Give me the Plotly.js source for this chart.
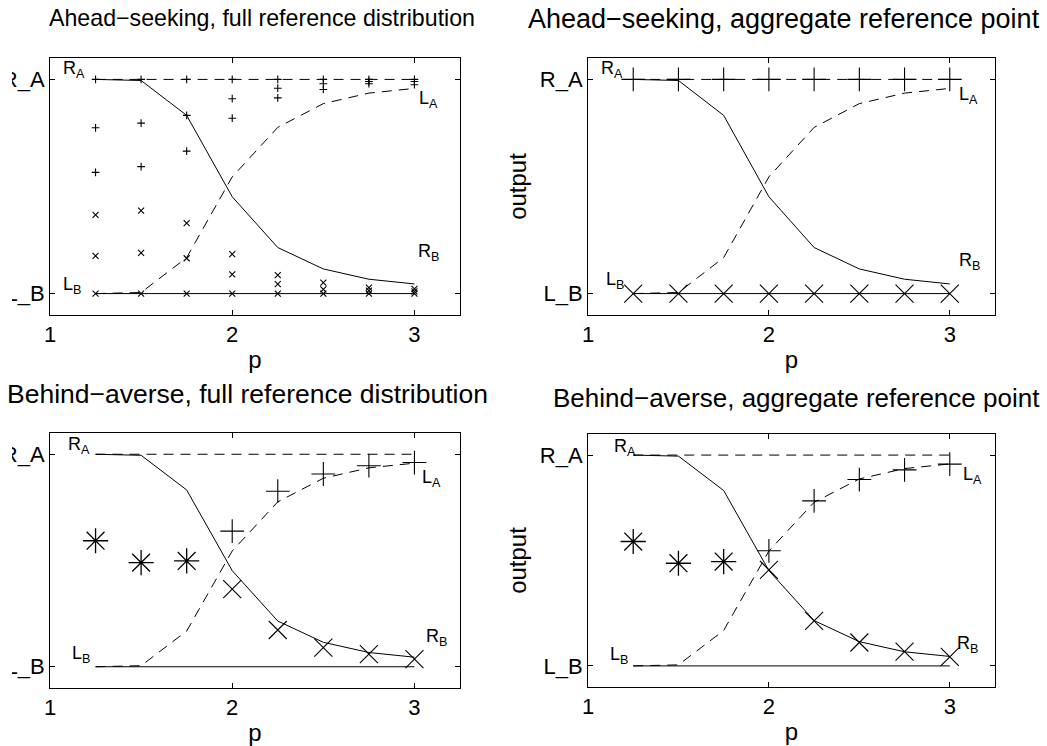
<!DOCTYPE html>
<html>
<head>
<meta charset="utf-8">
<script src="https://cdn.plot.ly/plotly-3.0.1.min.js"></script>
<style>
  html, body { margin: 0; padding: 0; background: #fff; }
  #chart { width: 1047px; height: 746px; }
</style>
</head>
<body>
<div id="chart"></div>
<script>
// ---------- data ----------
const pVals = [1.25, 1.5, 1.75, 2, 2.25, 2.5, 2.75, 3];
// solid curve falling from R_A to R_B
const curveB = [1.0, 0.995, 0.832, 0.452, 0.215, 0.115, 0.067, 0.045];
// dashed curve rising from L_B to L_A
const curveA = [0.0, 0.005, 0.168, 0.545, 0.776, 0.887, 0.936, 0.958];
// horizontal reference levels
const refEnds = [1.25, 3];
const levelA = [1, 1];
const levelB = [0, 0];

const xTickVals = [1, 2, 3];
const xTickText = ['1', '2', '3'];
const yTickVals = [0, 1];
const yTickText = ['L_B', 'R_A'];

// panel 1: ahead-seeking, full reference distribution
const tlPlusP = [1.25,1.25,1.25, 1.5,1.5,1.5, 1.75,1.75,1.75, 2,2,2, 2.25,2.25,2.25, 2.5,2.5,2.5, 2.75,2.75,2.75, 3,3,3];
const tlPlusY = [1.0,0.774,0.566, 1.0,0.796,0.593, 1.0,0.832,0.665, 1.0,0.91,0.819, 1.0,0.959,0.914, 1.0,0.98,0.953, 1.0,0.99,0.98, 1.0,0.99,0.975];
const tlCrossP = [1.25,1.25,1.25, 1.5,1.5,1.5, 1.75,1.75,1.75, 2,2,2, 2.25,2.25,2.25, 2.5,2.5,2.5, 2.75,2.75,2.75, 3,3,3];
const tlCrossY = [0.367,0.176,0.0, 0.387,0.19,0.0, 0.329,0.165,0.0, 0.184,0.09,0.0, 0.086,0.044,0.0, 0.051,0.02,0.0, 0.028,0.014,0.0, 0.022,0.01,0.0];

// panel 2: ahead-seeking, aggregate reference point
const trPlusY = [1, 1, 1, 1, 1, 1, 1, 1];
const trCrossY = [0, 0, 0, 0, 0, 0, 0, 0];

// panel 3: behind-averse, full reference distribution
const starP = [1.25, 1.5, 1.75];
const pairP = [2, 2.25, 2.5, 2.75, 3];
const blStarY = [0.593, 0.49, 0.498];
const blPlusY = [0.638, 0.826, 0.907, 0.946, 0.961];
const blCrossY = [0.365, 0.173, 0.09, 0.059, 0.036];

// panel 4: behind-averse, aggregate reference point
const brStarY = [0.59, 0.487, 0.495];
const brPlusY = [0.546, 0.783, 0.884, 0.93, 0.957];
const brCrossY = [0.456, 0.214, 0.111, 0.068, 0.043];

const titles = [
  'Ahead\u2212seeking, full reference distribution',
  'Ahead\u2212seeking, aggregate reference point',
  'Behind\u2212averse, full reference distribution',
  'Behind\u2212averse, aggregate reference point'
];

// ---------- styling / layout ----------
const FONT = 'Liberation Sans, Arial, Helvetica, sans-serif';
const W = 1047, H = 746;
const px = v => v / W;
const py = v => 1 - v / H;

const panels = [
  { id: '',  x0: 50,  x1: 460, y0: 58,  y1: 315, ytitle: false },
  { id: '2', x0: 588, x1: 995, y0: 58,  y1: 315, ytitle: true },
  { id: '3', x0: 50,  x1: 460, y0: 433, y1: 688, ytitle: false },
  { id: '4', x0: 588, x1: 995, y0: 434, y1: 687, ytitle: true }
];

const traces = [];
function lineTraces(ax) {
  const xa = 'x' + ax, ya = 'y' + ax;
  traces.push({ x: refEnds, y: levelA, xaxis: xa, yaxis: ya, mode: 'lines',
    line: { color: '#000', width: 1, dash: '10px,7px' }, hoverinfo: 'skip' });
  traces.push({ x: refEnds, y: levelB, xaxis: xa, yaxis: ya, mode: 'lines',
    line: { color: '#000', width: 1 }, hoverinfo: 'skip' });
  traces.push({ x: pVals, y: curveB, xaxis: xa, yaxis: ya, mode: 'lines',
    line: { color: '#000', width: 1 }, hoverinfo: 'skip' });
  traces.push({ x: pVals, y: curveA, xaxis: xa, yaxis: ya, mode: 'lines',
    line: { color: '#000', width: 1, dash: '10px,7px' }, hoverinfo: 'skip' });
}
function markerTrace(ax, x, y, symbol, size, lw) {
  traces.push({ x: x, y: y, xaxis: 'x' + ax, yaxis: 'y' + ax, mode: 'markers',
    marker: { symbol: symbol, size: size, color: '#000', line: { color: '#000', width: lw || 1.1 } },
    hoverinfo: 'skip' });
}

// panel 1
lineTraces('');
markerTrace('', tlPlusP, tlPlusY, 'cross-thin-open', 5.5);
markerTrace('', tlCrossP, tlCrossY, 'x-thin-open', 6);
// panel 2
lineTraces('2');
markerTrace('2', pVals, trPlusY, 'cross-thin-open', 17);
markerTrace('2', pVals, trCrossY, 'x-thin-open', 18);
// panel 3
lineTraces('3');
markerTrace('3', starP, blStarY, 'asterisk-open', 21, 1.3);
markerTrace('3', pairP, blPlusY, 'cross-thin-open', 17);
markerTrace('3', pairP, blCrossY, 'x-thin-open', 18);
// panel 4
lineTraces('4');
markerTrace('4', starP, brStarY, 'asterisk-open', 21, 1.3);
markerTrace('4', pairP, brPlusY, 'cross-thin-open', 17);
markerTrace('4', pairP, brCrossY, 'x-thin-open', 18);

const layout = {
  width: W, height: H,
  margin: { l: 0, r: 0, t: 0, b: 0, pad: 0 },
  paper_bgcolor: '#fff', plot_bgcolor: '#fff',
  showlegend: false,
  font: { family: FONT, size: 22, color: '#000' },
  annotations: [],
  // the reference image is cropped at its left edge, cutting into the left tick labels
  shapes: [
    { type: 'rect', xref: 'paper', yref: 'paper', layer: 'above',
      x0: 0, x1: px(12), y0: py(320), y1: py(45),
      fillcolor: '#fff', line: { width: 0 } },
    { type: 'rect', xref: 'paper', yref: 'paper', layer: 'above',
      x0: 0, x1: px(12), y0: py(700), y1: py(425),
      fillcolor: '#fff', line: { width: 0 } }
  ]
};

const labelPos = [
  { RA: [1.06, 1.045], LA: [3.015, 0.905], RB: [3.01, 0.19], LB: [1.06, 0.04] },
  { RA: [1.06, 1.045], LA: [3.04, 0.925], RB: [3.04, 0.15], LB: [1.09, 0.06] },
  { RA: [1.09, 1.04],  LA: [3.03, 0.885], RB: [3.05, 0.14], LB: [1.11, 0.06] },
  { RA: [1.13, 1.035], LA: [3.06, 0.905], RB: [3.03, 0.10], LB: [1.11, 0.05] }
];
const titleX = [262, 784, 247, 796.5];
const titleY = [18.5, 19.5, 394, 398];
const titleSize = [23.2, 27, 26.5, 26];

panels.forEach((pn, i) => {
  const xk = 'xaxis' + pn.id, yk = 'yaxis' + pn.id;
  const yref = 'y' + pn.id, xref = 'x' + pn.id;
  layout[xk] = {
    domain: [px(pn.x0), px(pn.x1)],
    anchor: yref,
    range: [1, 3.25],
    tickvals: xTickVals, ticktext: xTickText,
    ticks: 'inside', ticklen: 5, tickwidth: 1, tickcolor: '#000',
    showline: true, linecolor: '#000', linewidth: 1, mirror: 'ticks',
    showgrid: false, zeroline: false,
    tickfont: { family: FONT, size: 22, color: '#000' },
    title: { text: 'p', font: { family: FONT, size: 24, color: '#000' }, standoff: 4 },
    fixedrange: true
  };
  layout[yk] = {
    domain: [py(pn.y1), py(pn.y0)],
    anchor: xref,
    range: [-0.1, 1.1],
    tickvals: yTickVals, ticktext: yTickText,
    ticks: 'inside', ticklen: 5, tickwidth: 1, tickcolor: '#000',
    showline: true, linecolor: '#000', linewidth: 1, mirror: 'ticks',
    showgrid: false, zeroline: false,
    tickfont: { family: FONT, size: 22, color: '#000' },
    fixedrange: true
  };
  if (pn.ytitle) {
    layout[yk].title = { text: 'output', font: { family: FONT, size: 24, color: '#000' }, standoff: 6 };
  }
  // subplot title
  layout.annotations.push({
    xref: 'paper', yref: 'paper',
    x: px(titleX[i]), y: py(titleY[i]),
    xanchor: 'center', yanchor: 'middle',
    text: titles[i], showarrow: false,
    font: { family: FONT, size: titleSize[i], color: '#000' }
  });
  // curve labels
  const lp = labelPos[i];
  [['RA', 'R<sub>A</sub>'], ['LA', 'L<sub>A</sub>'], ['RB', 'R<sub>B</sub>'], ['LB', 'L<sub>B</sub>']].forEach(([k, t]) => {
    layout.annotations.push({
      xref: xref, yref: yref, x: lp[k][0], y: lp[k][1],
      xanchor: 'left', yanchor: 'middle', showarrow: false,
      text: t, font: { family: FONT, size: 18, color: '#000' }
    });
  });
});

Plotly.newPlot('chart', traces, layout, { staticPlot: true, displayModeBar: false });
</script>
</body>
</html>
